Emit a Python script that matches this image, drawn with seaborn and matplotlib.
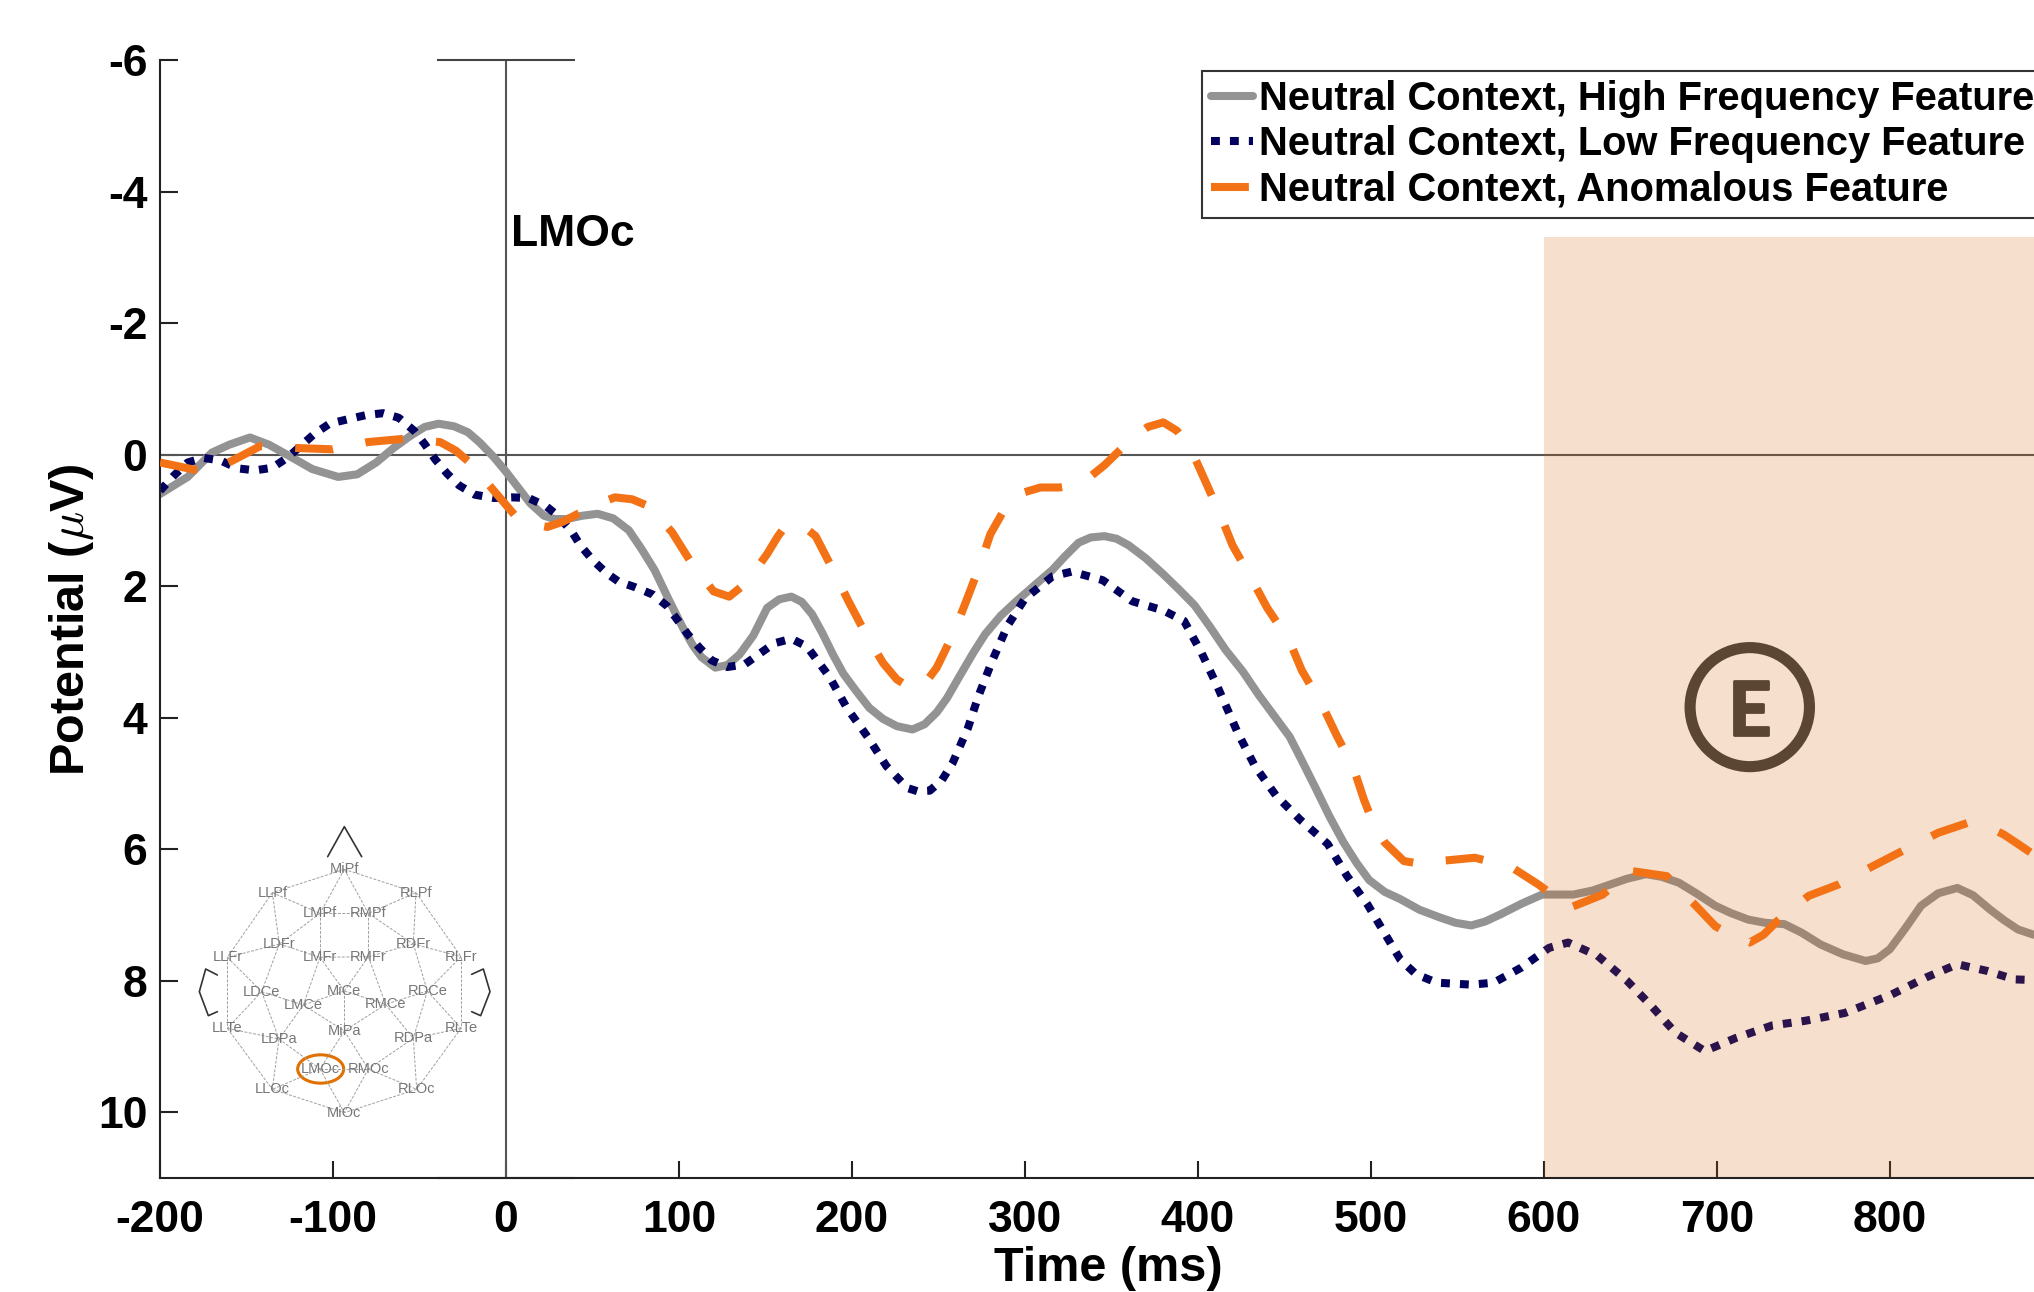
import pandas as pd
import matplotlib
matplotlib.use('Agg')
import matplotlib.pyplot as plt
import matplotlib.patheffects as pe
from matplotlib.patches import Ellipse
import seaborn as sns

high_x = [-200, -184, -170, -160, -148, -137, -126, -112, -97, -86, -75, -65, -55, -47, -39, -30, -22, -15, -7, 0,
          7, 14, 22, 28, 35, 44, 53, 62, 71, 78, 86, 94, 102, 108, 113, 121, 128, 135, 143, 151,
          158, 165, 171, 177, 183, 189, 195, 202, 210, 218, 226, 235, 242, 249, 255, 262, 270, 277, 286, 295,
          305, 316, 323, 331, 338, 346, 353, 360, 370, 380, 389, 398, 407, 416, 426, 435, 444, 453, 460, 468,
          476, 484, 492, 499, 508, 517, 528, 540, 549, 558, 566, 575, 587, 599, 608, 617, 628, 638, 648, 659,
          668, 678, 688, 699, 708, 718, 728, 739, 749, 760, 773, 786, 793, 800, 809, 818, 828, 839, 848, 858,
          866, 874, 883]
high_y = [0.6, 0.34, -0.03, -0.15, -0.26, -0.15, 0.01, 0.22, 0.34, 0.3, 0.12, -0.1, -0.29, -0.42, -0.47, -0.43, -0.34, -0.18, 0.04, 0.26,
          0.5, 0.74, 0.93, 0.98, 0.98, 0.93, 0.9, 0.97, 1.15, 1.42, 1.76, 2.2, 2.62, 2.9, 3.08, 3.24, 3.2, 3.04, 2.75, 2.33,
          2.2, 2.16, 2.24, 2.43, 2.72, 3.04, 3.33, 3.58, 3.85, 4.02, 4.13, 4.18, 4.1, 3.92, 3.7, 3.38, 3.02, 2.73, 2.45, 2.23,
          2.0, 1.75, 1.55, 1.34, 1.26, 1.24, 1.28, 1.38, 1.58, 1.82, 2.05, 2.29, 2.62, 2.97, 3.3, 3.65, 3.97, 4.29, 4.65, 5.07,
          5.5, 5.89, 6.22, 6.47, 6.65, 6.76, 6.92, 7.04, 7.12, 7.16, 7.1, 6.99, 6.83, 6.69, 6.69, 6.69, 6.63, 6.54, 6.45, 6.38,
          6.42, 6.51, 6.67, 6.86, 6.97, 7.07, 7.12, 7.14, 7.27, 7.45, 7.6, 7.7, 7.66, 7.52, 7.2, 6.86, 6.67, 6.59, 6.7, 6.92,
          7.08, 7.22, 7.3]

low_x = [-200, -192, -184, -175, -165, -155, -145, -135, -126, -111, -102, -91, -81, -71, -62, -53, -47, -41, -34, -27,
         -18, -7, 3, 13, 23, 30, 38, 43, 50, 58, 65, 75, 85, 93, 99, 105, 112, 119, 128, 138,
         155, 165, 174, 187, 197, 209, 220, 232, 238, 245, 252, 258, 267, 273, 281, 290, 300, 316, 327, 345,
         362, 380, 392, 402, 411, 423, 433, 445, 459, 475, 486, 498, 517, 526, 538, 558, 571, 587, 603, 614,
         631, 648, 662, 676, 693, 711, 732, 751, 774, 801, 821, 839, 856, 872, 883]
low_y = [0.55, 0.32, 0.12, 0.05, 0.09, 0.21, 0.24, 0.2, 0.04, -0.31, -0.47, -0.54, -0.6, -0.63, -0.56, -0.36, -0.16, 0.07, 0.29, 0.47,
         0.61, 0.66, 0.65, 0.66, 0.78, 0.93, 1.17, 1.38, 1.6, 1.8, 1.93, 2.02, 2.13, 2.3, 2.51, 2.73, 2.94, 3.13, 3.23, 3.19,
         2.87, 2.8, 2.92, 3.38, 3.85, 4.29, 4.74, 5.07, 5.12, 5.11, 4.95, 4.7, 4.16, 3.68, 3.14, 2.6, 2.19, 1.85, 1.78, 1.91,
         2.23, 2.37, 2.53, 3.01, 3.51, 4.23, 4.74, 5.18, 5.55, 5.92, 6.4, 6.84, 7.68, 7.9, 8.03, 8.06, 8.03, 7.8, 7.5, 7.42,
         7.62, 8.0, 8.38, 8.79, 9.07, 8.87, 8.68, 8.61, 8.49, 8.21, 7.95, 7.75, 7.85, 7.98, 7.99]

anom_x = [-200, -180, -170, -158, -142, -121, -100, -80, -59, -38, -29, -21, -14, -7, 6, 15, 24, 33, 43, 53,
          63, 73, 83, 96, 107, 120, 129, 139, 151, 157, 162, 170, 179, 189, 198, 208, 218, 226, 234, 241,
          249, 259, 266, 274, 280, 291, 300, 309, 320, 330, 338, 346, 362, 371, 380, 388, 396, 404, 413, 420,
          431, 440, 453, 460, 472, 480, 490, 496, 502, 508, 519, 530, 540, 560, 581, 597, 615, 634, 650, 671,
          686, 699, 709, 719, 727, 735, 753, 770, 790, 807, 828, 845, 856, 866, 874, 883]
anom_y = [0.12, 0.23, 0.24, 0.09, -0.13, -0.1, -0.08, -0.19, -0.24, -0.19, -0.06, 0.12, 0.33, 0.55, 0.95, 1.06, 1.1, 1.02, 0.88, 0.75,
          0.65, 0.68, 0.79, 1.18, 1.64, 2.08, 2.16, 1.95, 1.51, 1.25, 1.07, 1.05, 1.24, 1.75, 2.23, 2.73, 3.17, 3.42, 3.55, 3.52,
          3.24, 2.7, 2.23, 1.68, 1.21, 0.7, 0.57, 0.5, 0.5, 0.46, 0.33, 0.16, -0.25, -0.42, -0.49, -0.36, -0.08, 0.39, 0.92, 1.38,
          1.89, 2.33, 2.84, 3.28, 3.82, 4.26, 4.77, 5.25, 5.65, 5.9, 6.18, 6.23, 6.18, 6.13, 6.27, 6.54, 6.89, 6.69, 6.33, 6.41,
          6.81, 7.17, 7.32, 7.42, 7.3, 7.09, 6.71, 6.54, 6.26, 6.03, 5.75, 5.6, 5.65, 5.78, 5.92, 6.08]

names = ['Neutral Context, High Frequency Feature',
         'Neutral Context, Low Frequency Feature',
         'Neutral Context, Anomalous Feature']
x_ticks = [-200, -100, 0, 100, 200, 300, 400, 500, 600, 700, 800]
y_ticks = [-6, -4, -2, 0, 2, 4, 6, 8, 10]

# electrode map, in the head picture's own coordinates
sites = {'MiPf': (553, 178), 'LLPf': (337, 248), 'RLPf': (768, 248), 'LMPf': (480, 310), 'RMPf': (625, 310),
         'LDFr': (358, 402), 'RDFr': (760, 402), 'LLFr': (202, 442), 'LMFr': (480, 442), 'RMFr': (625, 440),
         'RLFr': (903, 440), 'LDCe': (305, 545), 'MiCe': (553, 543), 'RDCe': (802, 543), 'LMCe': (430, 585),
         'RMCe': (677, 583), 'LLTe': (202, 655), 'RLTe': (903, 655), 'LDPa': (357, 687), 'MiPa': (553, 663),
         'RDPa': (760, 685), 'LMOc': (480, 777), 'RMOc': (625, 777), 'LLOc': (337, 838), 'RLOc': (770, 838),
         'MiOc': (553, 908)}
links = ['MiPf-LLPf', 'MiPf-RLPf', 'MiPf-LMPf', 'MiPf-RMPf', 'LLPf-LMPf', 'RLPf-RMPf', 'LMPf-RMPf', 'LLPf-LLFr',
         'RLPf-RLFr', 'LLPf-LDFr', 'RLPf-RDFr', 'LMPf-LDFr', 'RMPf-RDFr', 'LMPf-LMFr', 'RMPf-RMFr', 'LDFr-LLFr',
         'RDFr-RLFr', 'LDFr-LMFr', 'RDFr-RMFr', 'LMFr-RMFr', 'LLFr-LDCe', 'RLFr-RDCe', 'LDFr-LDCe', 'RDFr-RDCe',
         'LMFr-LMCe', 'RMFr-RMCe', 'LMFr-MiCe', 'RMFr-MiCe', 'LLFr-LLTe', 'RLFr-RLTe', 'LDCe-LMCe', 'RDCe-RMCe',
         'MiCe-LMCe', 'MiCe-RMCe', 'MiCe-MiPa', 'LDCe-LLTe', 'RDCe-RLTe', 'LDCe-LDPa', 'RDCe-RDPa', 'LMCe-LDPa',
         'RMCe-RDPa', 'LMCe-MiPa', 'RMCe-MiPa', 'LLTe-LDPa', 'RLTe-RDPa', 'LLTe-LLOc', 'RLTe-RLOc', 'LDPa-LLOc',
         'RDPa-RLOc', 'LDPa-LMOc', 'RDPa-RMOc', 'MiPa-LMOc', 'MiPa-RMOc', 'LMOc-RMOc', 'LMOc-LLOc', 'RMOc-RLOc',
         'LMOc-MiOc', 'RMOc-MiOc', 'LLOc-MiOc', 'RLOc-MiOc']

sns.set_style('ticks')
plt.rcParams['font.family'] = ['Liberation Sans', 'DejaVu Sans']
plt.rcParams['font.weight'] = 'bold'
plt.rcParams['mathtext.fontset'] = 'cm'
plt.rcParams['axes.unicode_minus'] = False
plt.rcParams['text.color'] = 'black'
plt.rcParams['axes.labelcolor'] = 'black'
plt.rcParams['xtick.labelcolor'] = 'black'
plt.rcParams['ytick.labelcolor'] = 'black'

df = pd.concat([
    pd.DataFrame({'time': high_x, 'value': high_y, 'cond': names[0]}),
    pd.DataFrame({'time': low_x, 'value': low_y, 'cond': names[1]}),
    pd.DataFrame({'time': anom_x, 'value': anom_y, 'cond': names[2]}),
])

W, H = 2034, 1292
fig = plt.figure(figsize=(W / 100, H / 100), dpi=100, facecolor='white')
ax = fig.add_axes([160 / W, 1 - 1178 / H, 1874 / W, 1118 / H])

palette = {names[0]: '#939393', names[1]: '#02025e', names[2]: '#f47216'}
dashes = {names[0]: '', names[1]: (1.1, 1.25), names[2]: (4.7, 4.1)}
sns.lineplot(data=df, x='time', y='value', hue='cond', style='cond', palette=palette, dashes=dashes,
             hue_order=names, style_order=names, linewidth=5.8, estimator=None, sort=False, legend=False, ax=ax)
lines = ax.get_lines()[:3]
lines[0].set_zorder(2)
lines[1].set_zorder(2.1)
lines[2].set_zorder(3)
lines[0].set_solid_joinstyle('round')

ax.set_xlim(-200, 883.3)
ax.set_ylim(11, -6)

# shaded window sits over grey and navy but under the orange trace
ax.fill_between([600, 883.3], -3.31, 11, color='#d25f00', alpha=0.2, linewidth=0, zorder=2.5)

ax.axhline(0, color='#555555', lw=1.5, zorder=1)
ax.axvline(0, color='#555555', lw=1.5, zorder=1)
ax.hlines([-6, 11], -40, 40, color='#444444', lw=1.5, zorder=1, clip_on=False)

ax.set_xticks(x_ticks)
ax.set_yticks(y_ticks)
ax.tick_params(axis='x', direction='in', length=12, width=1.5, color='#222222', labelsize=32, pad=16)
ax.tick_params(axis='y', direction='in', length=13, width=1.5, color='#222222', labelsize=32, pad=9)
sns.despine(ax=ax)
ax.spines['left'].set_linewidth(1.5)
ax.spines['bottom'].set_linewidth(1.5)
ax.spines['left'].set_color('#222222')
ax.spines['bottom'].set_color('#222222')

ax.set_xlabel('Time (ms)', fontsize=35, fontweight='bold')
ax.set_ylabel(r'Potential ($\mu$V)', fontsize=35, fontweight='bold')
ax.xaxis.set_label_coords(0.506, -0.0605)
ax.yaxis.set_label_coords(-0.034, 0.499)

ax.text(3, -3.35, 'LMOc', fontsize=32, fontweight='bold', color='black', va='center')

ax.add_patch(Ellipse((719, 3.84), 69, 1.81, fill=False, edgecolor='#5a4632', lw=8, zorder=4))
e_txt = ax.text(719, 3.84, 'E', family='Lato', fontsize=54, fontweight='bold', color='#5a4632',
                ha='center', va='center_baseline', zorder=4)
e_txt.set_path_effects([pe.withStroke(linewidth=2, foreground='#5a4632')])

leg = ax.legend(lines, names, loc='upper left', bbox_to_anchor=(1202 / W, 1 - 71 / H),
                bbox_transform=fig.transFigure, borderaxespad=0, fontsize=28.7, fancybox=False,
                framealpha=1, edgecolor='#333333', handlelength=1.07, handletextpad=0.15,
                labelspacing=0.19, borderpad=0.22)
leg.get_frame().set_linewidth(1.5)
leg.set_zorder(6)

# head map inset
head = fig.add_axes([160 / W, 1 - 1130 / H, 345 / W, 320 / H])
head.set_xlim(0, 1035)
head.set_ylim(960, 0)
head.axis('off')
head.patch.set_alpha(0)
for link in links:
    a, b = link.split('-')
    head.plot([sites[a][0], sites[b][0]], [sites[a][1], sites[b][1]], color='#a0a0a0', lw=0.7, ls=(0, (3, 1.5)))
for name, (sx, sy) in sites.items():
    head.text(sx, sy, name, fontsize=10.5, fontweight='normal', color='#777777', ha='center', va='center')
head.plot([503, 553, 605], [140, 50, 140], color='#333333', lw=1.2)
head.plot([172, 137, 118, 145, 172], [495, 477, 545, 617, 605], color='#333333', lw=1.2)
head.plot([935, 970, 990, 962, 935], [493, 477, 545, 617, 605], color='#333333', lw=1.2)
head.add_patch(Ellipse((482, 777), 138, 85, fill=False, edgecolor='#e07000', lw=2.2))

fig.savefig('out.png', dpi=100)
